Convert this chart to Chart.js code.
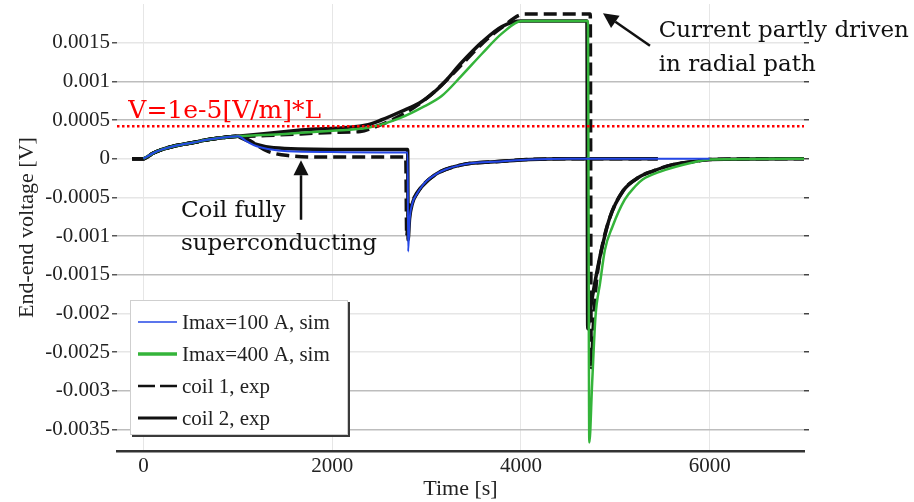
<!DOCTYPE html>
<html>
<head>
<meta charset="utf-8">
<script src="https://cdn.jsdelivr.net/npm/chart.js@4"></script>
<style>
  html, body { margin: 0; padding: 0; background: #fff; }
  canvas { display: block; }
</style>
</head>
<body>
<canvas id="chart" width="914" height="502"></canvas>
<script>
// axis ticks
const xTicks = [0, 2000, 4000, 6000];
const yTicks = [-0.0035, -0.003, -0.0025, -0.002, -0.0015, -0.001, -0.0005, 0, 0.0005, 0.001, 0.0015];

// Imax=100 A, simulation
const sim100T = [0, 100, 200, 350, 530, 710, 900, 1000, 1100, 1200, 1320, 1530, 2000, 2500, 2800,
  2805, 2820, 2850, 2900, 2950, 3000, 3100, 3200, 3370, 3550, 3720, 4100, 4500, 6000];
const sim100V = [0, 0.00007, 0.00012, 0.00017, 0.00021, 0.00025, 0.00028, 0.00029, 0.00022, 0.00016, 0.000125, 0.000095, 0.000085, 0.00008, 0.00008,
  -0.0012, -0.0008, -0.00058, -0.00045, -0.00036, -0.00029, -0.0002, -0.00014, -0.00008, -0.00005, -0.00004, -0.00001, 0, 0];

// Imax=400 A, simulation
const sim400T = [0, 100, 200, 350, 530, 710, 900, 1000, 1500, 2000, 2380, 2520, 2730, 2950, 3160, 3370, 3590, 3800, 4010, 4710,
  4725, 4755, 4790, 4840, 4890, 4970, 5100, 5210, 5290, 5470, 5820, 6000, 7000];
const sim400V = [0, 0.00007, 0.00012, 0.00017, 0.00021, 0.00025, 0.00028, 0.00029, 0.00032, 0.00036, 0.0004, 0.00044, 0.00053, 0.00066, 0.00081, 0.00107, 0.00136, 0.00162, 0.00178, 0.00178,
  -0.00367, -0.0029, -0.00205, -0.0016, -0.00118, -0.00088, -0.00053, -0.00036, -0.00027, -0.00017, -0.00005, -0.00001, 0];

// coil 1, experiment, 400 A run
const coil1HiT = [-120, 0, 100, 200, 350, 530, 710, 900, 1000, 1030, 1300, 1670, 2000, 2300, 2450, 2600, 2800, 3000, 3200, 3400, 3600, 3800, 4040, 4735,
  4745, 4770, 4800, 4850, 4940, 5080, 5250, 5400, 5600, 5820, 6000, 7000];
const coil1HiV = [0, 0, 0.00007, 0.00012, 0.00017, 0.00021, 0.00025, 0.00028, 0.00029, 0.00029, 0.0003, 0.00032, 0.00034, 0.00035, 0.00041, 0.00048, 0.00061, 0.00078, 0.001, 0.00125, 0.0015, 0.0017, 0.00187, 0.00187,
  -0.0027, -0.0021, -0.0016, -0.0012, -0.00077, -0.00042, -0.00024, -0.00016, -0.00008, -0.00004, -0.00001, 0];

// coil 1, experiment, 100 A run
const coil1LoT = [-120, 0, 100, 200, 350, 530, 710, 900, 1000, 1100, 1320, 1530, 2000, 2780,
  2790, 2810, 2850, 2950, 3100, 3370, 3720, 4100, 4500, 5450];
const coil1LoV = [0, 0, 0.00007, 0.00012, 0.00017, 0.00021, 0.00025, 0.00028, 0.00029, 0.00025, 0.000094, 0.00004, 0.00002, 0.00002,
  -0.001, -0.0007, -0.00055, -0.00036, -0.0002, -0.00008, -0.00004, -0.00001, 0, 0];

// coil 2, experiment, 400 A run
const coil2HiT = [-120, 0, 100, 200, 350, 530, 710, 900, 1000, 1670, 2380, 2520, 2730, 2950, 3160, 3370, 3590, 3800, 4010, 4700,
  4708, 4730, 4770, 4800, 4850, 4940, 5080, 5250, 5400, 5600, 5820, 6000, 7000];
const coil2HiV = [0, 0, 0.00007, 0.00012, 0.00017, 0.00021, 0.00025, 0.00028, 0.00029, 0.00037, 0.00044, 0.0005, 0.00061, 0.00074, 0.00095, 0.00124, 0.00151, 0.00171, 0.00178, 0.00178,
  -0.0022, -0.002, -0.0017, -0.0015, -0.0012, -0.00077, -0.00042, -0.00024, -0.00016, -0.00008, -0.00004, -0.00001, 0];

// coil 2, experiment, 100 A run
const coil2LoT = [-120, 0, 100, 200, 350, 530, 710, 900, 1000, 1030, 1210, 1380, 2000, 2800,
  2805, 2820, 2850, 2900, 2950, 3100, 3200, 3370, 3720, 4100, 4500, 5450];
const coil2LoV = [0, 0, 0.00007, 0.00012, 0.00017, 0.00021, 0.00025, 0.00028, 0.00029, 0.00027, 0.00018, 0.00014, 0.00012, 0.00012,
  -0.00105, -0.00078, -0.00058, -0.00045, -0.00036, -0.0002, -0.00014, -0.00008, -0.00004, -0.00001, 0, 0];

// red limit line
const limitT = [-280, 7000];
const limitV = [0.00042, 0.00042];

const legendLabels = ['Imax=100 A, sim', 'Imax=400 A, sim', 'coil 1, exp', 'coil 2, exp'];

const serif = "'Liberation Serif', 'Times New Roman', serif";
const noteFont = "'DejaVu Serif', Georgia, serif";
Chart.defaults.font.family = serif;
Chart.defaults.color = '#222';

function pts(ts, vs) {
  return ts.map((t, i) => ({ x: t, y: vs[i] }));
}

const BLUE = '#2447e6';
const GREEN = '#34b43a';
const BLACK = '#111';

const line = (data, color, width, dash, extra) => Object.assign({
  data: data,
  borderColor: color,
  backgroundColor: color,
  borderWidth: width,
  borderDash: dash || [],
  pointRadius: 0,
  fill: false,
  cubicInterpolationMode: 'monotone'
}, extra || {});

// legend drawn as a framed box inside the plot, like the original
const boxLegend = {
  id: 'boxLegend',
  afterDraw(chart, args, o) {
    const ctx = chart.ctx;
    ctx.save();
    ctx.fillStyle = '#3a3a3a';
    ctx.fillRect(o.x + 2, o.y + 2, o.w, o.h);
    ctx.fillStyle = '#fff';
    ctx.fillRect(o.x, o.y, o.w, o.h);
    ctx.strokeStyle = '#cfcfcf';
    ctx.lineWidth = 1;
    ctx.strokeRect(o.x + 0.5, o.y + 0.5, o.w - 1, o.h - 1);

    ctx.font = o.fontSize + 'px ' + serif;
    ctx.textBaseline = 'middle';
    ctx.textAlign = 'left';
    chart.data.datasets.forEach(ds => {
      if (ds.legendIndex === undefined) return;
      const cy = o.y + o.first + ds.legendIndex * o.row;
      ctx.strokeStyle = ds.borderColor;
      ctx.lineWidth = ds.legendWidth || ds.borderWidth;
      ctx.setLineDash(ds.borderDash.length ? [17, 5] : []);
      ctx.beginPath();
      ctx.moveTo(o.x + 8, cy);
      ctx.lineTo(o.x + 47, cy);
      ctx.stroke();
      ctx.setLineDash([]);
      ctx.fillStyle = '#222';
      ctx.fillText(legendLabels[ds.legendIndex], o.x + 52, cy + 1);
    });
    ctx.restore();
  }
};

// text notes and arrows, placed in data units
const notes = {
  id: 'notes',
  afterDatasetsDraw(chart, args, o) {
    const ctx = chart.ctx;
    const xs = chart.scales.x, ys = chart.scales.y;
    ctx.save();
    ctx.textBaseline = 'alphabetic';
    ctx.textAlign = 'left';
    o.texts.forEach(n => {
      ctx.font = (n.size || o.fontSize) + 'px ' + noteFont;
      ctx.fillStyle = n.color || '#111';
      ctx.fillText(n.text, xs.getPixelForValue(n.t), ys.getPixelForValue(n.v));
    });
    o.arrows.forEach(a => {
      const x1 = xs.getPixelForValue(a.from[0]), y1 = ys.getPixelForValue(a.from[1]);
      const x2 = xs.getPixelForValue(a.to[0]), y2 = ys.getPixelForValue(a.to[1]);
      const ang = Math.atan2(y2 - y1, x2 - x1);
      const hl = 15, hw = 7.5;
      const bx = x2 - hl * Math.cos(ang), by = y2 - hl * Math.sin(ang);
      ctx.strokeStyle = '#111';
      ctx.fillStyle = '#111';
      ctx.lineWidth = 2.5;
      ctx.beginPath();
      ctx.moveTo(x1, y1);
      ctx.lineTo(bx, by);
      ctx.stroke();
      ctx.beginPath();
      ctx.moveTo(x2, y2);
      ctx.lineTo(bx + hw * Math.sin(ang), by - hw * Math.cos(ang));
      ctx.lineTo(bx - hw * Math.sin(ang), by + hw * Math.cos(ang));
      ctx.closePath();
      ctx.fill();
    });
    ctx.restore();
  }
};

const fixTicks = list => scale => { scale.ticks = list.map(v => ({ value: v })); };

new Chart(document.getElementById('chart'), {
  type: 'line',
  data: {
    datasets: [
      line(pts(limitT, limitV), '#ff0000', 2.5, [2.5, 2.5], { cubicInterpolationMode: 'default' }),
      line(pts(sim100T, sim100V), BLUE, 2, null, { legendIndex: 0, legendWidth: 1.5 }),
      line(pts(sim400T, sim400V), GREEN, 2.5, null, { legendIndex: 1, legendWidth: 3.5 }),
      line(pts(coil1HiT, coil1HiV), BLACK, 3.5, [13, 6], { legendIndex: 2, legendWidth: 2.5 }),
      line(pts(coil1LoT, coil1LoV), BLACK, 3.5, [13, 6]),
      line(pts(coil2HiT, coil2HiV), BLACK, 3.5, null, { legendIndex: 3, legendWidth: 3 }),
      line(pts(coil2LoT, coil2LoV), BLACK, 3.5, null)
    ]
  },
  options: {
    responsive: false,
    animation: false,
    devicePixelRatio: 1,
    layout: { padding: { left: 0, right: 105, top: 4, bottom: 0 } },
    plugins: {
      legend: { display: false },
      tooltip: { enabled: false },
      boxLegend: { x: 130, y: 300, w: 218, h: 135, first: 22, row: 32, fontSize: 21 },
      notes: {
        fontSize: 23,
        texts: [
          { text: 'V=1e-5[V/m]*L', t: -160, v: 0.00053, color: '#ff0000', size: 25 },
          { text: 'Coil fully', t: 398, v: -0.00075 },
          { text: 'superconducting', t: 398, v: -0.00118 },
          { text: 'Current partly driven', t: 5460, v: 0.00157 },
          { text: 'in radial path', t: 5460, v: 0.00113 }
        ],
        arrows: [
          { from: [1670, -0.00079], to: [1670, -0.00002] },
          { from: [5368, 0.00146], to: [4870, 0.00188] }
        ]
      }
    },
    scales: {
      x: {
        type: 'linear',
        min: -280,
        max: 7000,
        afterBuildTicks: fixTicks(xTicks),
        afterFit: s => { s.height = 51; s.paddingLeft = 0; s.paddingRight = 0; },
        ticks: { callback: v => String(v), font: { size: 21 }, padding: 3, maxRotation: 0, color: '#222' },
        grid: { color: '#e6e6e6', lineWidth: 1, drawTicks: false },
        border: { display: true, color: '#333', width: 2.5 },
        title: { display: true, text: 'Time [s]', font: { size: 22 }, padding: { top: 0, bottom: 0 }, color: '#222' }
      },
      y: {
        type: 'linear',
        min: -0.00378,
        max: 0.002,
        afterBuildTicks: fixTicks(yTicks),
        afterFit: s => { s.width = 117; s.paddingTop = 0; s.paddingBottom = 0; },
        ticks: { callback: v => String(v), font: { size: 21 }, padding: 2, color: '#222' },
        grid: {
          color: c => (Math.floor(c.index / 2) % 2 === 0 ? '#bdbdbd' : '#e6e6e6'),
          lineWidth: 1.5,
          tickColor: '#555',
          tickLength: 5
        },
        border: { display: false },
        title: { display: true, text: 'End-end voltage [V]', font: { size: 22 }, padding: { top: 14, bottom: 0 }, color: '#222' }
      },
      y2: {
        type: 'linear',
        position: 'right',
        min: -0.00378,
        max: 0.002,
        afterBuildTicks: fixTicks(yTicks),
        afterFit: s => { s.width = 5; s.paddingTop = 0; s.paddingBottom = 0; },
        ticks: { display: false },
        grid: { drawOnChartArea: false, tickColor: '#444', tickLength: 5, lineWidth: 1.5 },
        border: { display: false }
      }
    }
  },
  plugins: [boxLegend, notes]
});
</script>
</body>
</html>
